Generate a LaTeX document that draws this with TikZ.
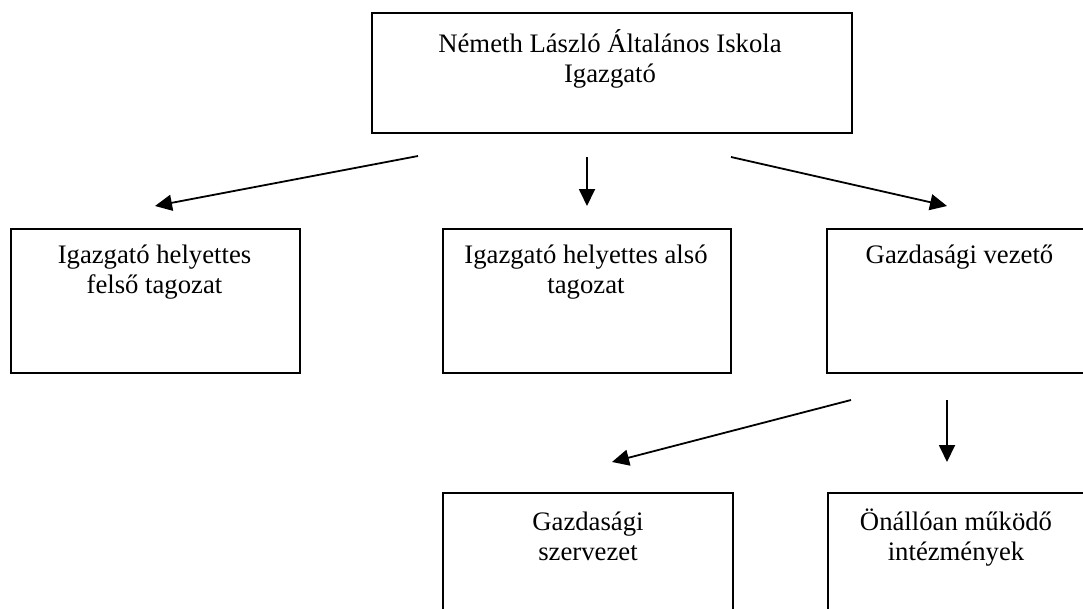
\documentclass[tikz,border=0pt]{standalone}
\usepackage{fontspec}
\setmainfont{Liberation Serif}
\usetikzlibrary{arrows.meta,calc}
\begin{document}
\begin{tikzpicture}[x=1pt,y=-1pt,
  box/.style={draw, line width=2pt, inner sep=0pt, anchor=north west},
  lbl/.style={align=center, inner sep=0pt, font=\fontsize{26.7}{30}\selectfont, anchor=base},
  arr/.style={line width=1.8pt, -{Triangle[length=17pt,width=16pt]}}]
\clip (0,0) rectangle (1083,608);
\fill[white] (0,0) rectangle (1083,608);
% boxes
\node[box, minimum width=480pt, minimum height=120pt] (top) at (371,12) {};
\node[box, minimum width=289pt, minimum height=144pt] (b1) at (10,228) {};
\node[box, minimum width=288pt, minimum height=144pt] (b2) at (442,228) {};
\node[box, minimum width=267pt, minimum height=144pt] (b3) at (826,228) {};
\node[box, minimum width=290pt, minimum height=150pt] (c1) at (442,492) {};
\node[box, minimum width=260pt, minimum height=150pt] (c2) at (827,492) {};
% labels (base = baseline of last line)
\node[lbl] (ttop) at (610,82) {Németh László Általános Iskola\\Igazgató};
\node[lbl] (tb1) at (154.5,293) {Igazgató helyettes\\felső tagozat};
\node[lbl] (tb2) at (586,293) {Igazgató helyettes alsó\\tagozat};
\node[lbl] (tb3) at (959.5,263) {Gazdasági vezető};
\node[lbl] (tc1) at (588,560) {Gazdasági\\szervezet};
\node[lbl] (tc2) at (956,560) {Önállóan működő\\intézmények};
% arrow ends
\coordinate (a1s) at (418,156); \coordinate (a1e) at (155,206);
\coordinate (a2s) at (587,157); \coordinate (a2e) at (587,206);
\coordinate (a3s) at (731,157); \coordinate (a3e) at (947,206);
\coordinate (a4s) at (851,400); \coordinate (a4e) at (612,462);
\coordinate (a5s) at (947,400); \coordinate (a5e) at (947,462);
\draw[arr] (a1s) -- (a1e);
\draw[arr] (a2s) -- (a2e);
\draw[arr] (a3s) -- (a3e);
\draw[arr] (a4s) -- (a4e);
\draw[arr] (a5s) -- (a5e);
\end{tikzpicture}
\end{document}
